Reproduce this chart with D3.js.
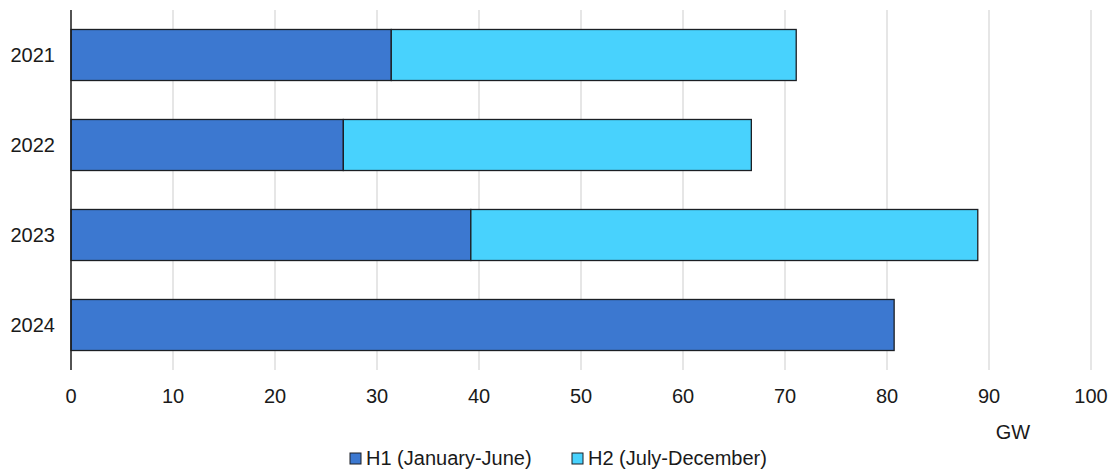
<!DOCTYPE html>
<html>
<head>
<meta charset="utf-8">
<script src="https://cdn.jsdelivr.net/npm/d3@7"></script>
<style>
  body { margin: 0; background: #fff; }
  text { font-family: "Liberation Sans", Arial, sans-serif; fill: #1a1a1a; }
</style>
</head>
<body>
<div id="chart"></div>
<script>
// data
const years = ["2021", "2022", "2023", "2024"];
const h1 = [31.4, 26.7, 39.2, 80.7];
const h2 = [39.7, 40.0, 49.7, 0];
const seriesNames = ["H1 (January-June)", "H2 (July-December)"];
const seriesColors = ["#3c78d0", "#48d2fd"];
const xTicks = [0, 10, 20, 30, 40, 50, 60, 70, 80, 90, 100];

const width = 1115, height = 470;
const margin = { top: 10, right: 24, bottom: 100, left: 71 };
const fontSize = "20px";

const svg = d3.select("#chart").append("svg")
  .attr("width", width)
  .attr("height", height);

const x = d3.scaleLinear().domain([0, 100]).range([margin.left, width - margin.right]);
const y = d3.scaleBand().domain(years).range([margin.top, height - margin.bottom]).paddingInner(0.433).paddingOuter(0.2165);

// grid
svg.append("g")
  .selectAll("line")
  .data(xTicks.slice(1))
  .join("line")
  .attr("x1", d => x(d)).attr("x2", d => x(d))
  .attr("y1", margin.top).attr("y2", height - margin.bottom)
  .attr("stroke", "#dedede")
  .attr("stroke-width", 1.5);

// stacked bars
const rows = years.map((yr, i) => ({ year: yr, h1: h1[i], h2: h2[i] }));
const stacked = d3.stack().keys(["h1", "h2"])(rows);

svg.append("g")
  .selectAll("g")
  .data(stacked)
  .join("g")
  .attr("fill", (d, i) => seriesColors[i])
  .selectAll("rect")
  .data(d => d.filter(s => s[1] - s[0] > 0))
  .join("rect")
  .attr("x", d => x(d[0]))
  .attr("width", d => x(d[1]) - x(d[0]))
  .attr("y", d => y(d.data.year))
  .attr("height", y.bandwidth())
  .attr("stroke", "#1c1f24")
  .attr("stroke-width", 1.3);

// y axis line
svg.append("line")
  .attr("x1", x(0)).attr("x2", x(0))
  .attr("y1", margin.top).attr("y2", height - margin.bottom)
  .attr("stroke", "#1a1a1a")
  .attr("stroke-width", 1.5);

// y labels
svg.append("g")
  .selectAll("text")
  .data(years)
  .join("text")
  .attr("x", x(0) - 16)
  .attr("y", d => y(d) + y.bandwidth() / 2)
  .attr("dy", "0.35em")
  .attr("text-anchor", "end")
  .style("font-size", fontSize)
  .text(d => d);

// x labels
svg.append("g")
  .selectAll("text")
  .data(xTicks)
  .join("text")
  .attr("x", d => x(d))
  .attr("y", 396)
  .attr("dy", "0.35em")
  .attr("text-anchor", "middle")
  .style("font-size", fontSize)
  .text(d => d);

svg.append("text")
  .attr("x", 1013)
  .attr("y", 432)
  .attr("dy", "0.35em")
  .attr("text-anchor", "middle")
  .style("font-size", fontSize)
  .text("GW");

// legend
const legendX = [350, 572];
const legend = svg.append("g")
  .selectAll("g")
  .data(seriesNames)
  .join("g")
  .attr("transform", (d, i) => `translate(${legendX[i]},458)`);

legend.append("rect")
  .attr("x", 0).attr("y", -5)
  .attr("width", 11).attr("height", 11)
  .attr("fill", (d, i) => seriesColors[i])
  .attr("stroke", "#1c1f24")
  .attr("stroke-width", 1);

legend.append("text")
  .attr("x", 16)
  .attr("dy", "0.35em")
  .style("font-size", fontSize)
  .text(d => d);
</script>
</body>
</html>
